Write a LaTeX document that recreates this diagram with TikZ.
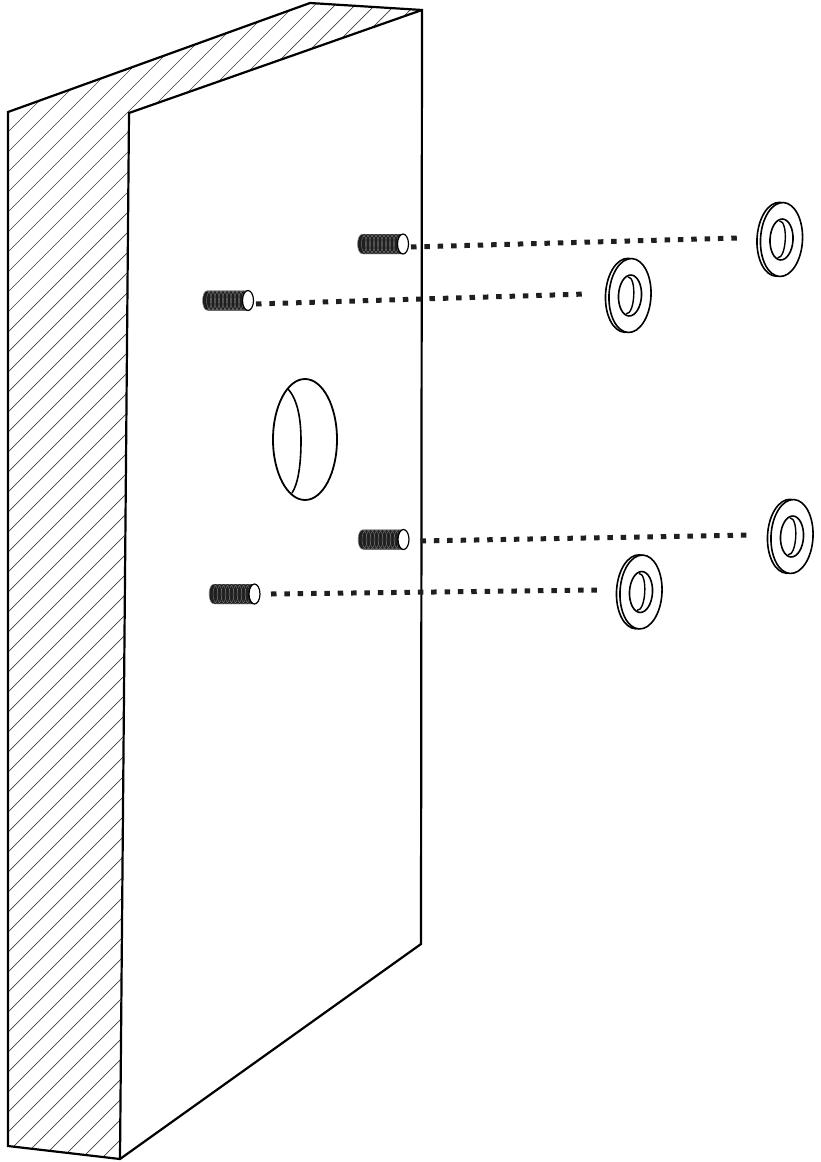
\documentclass[tikz,border=0pt]{standalone}
\begin{document}
\begin{tikzpicture}[x=1pt,y=-1pt,line join=miter,
  edge/.style={draw=black,line width=2.2pt},
  hatchline/.style={draw=black!75,line width=0.7pt},
  dotline/.style={draw=black!88,line width=5pt,dash pattern=on 5.5pt off 7.85pt},
  boltend/.style={draw=black,fill=white,line width=1.2pt},
  washer/.style={draw=black,line width=1.6pt,fill=white},
  thread/.style={draw=black!55,line width=0.45pt}]
\useasboundingbox (0,0) rectangle (820,1162);
\newcommand{\boltat}[3]{%
  \begin{scope}[shift={(#2,#3)}]
    \fill[black!88] (5,-10) -- (44,-10) -- (44,10) -- (5,10) .. controls (-2,10) and (-2,-10) .. (5,-10) -- cycle;
    \foreach \tx in {4,8,...,40}{\draw[thread] (\tx,0) ellipse [x radius=4.5,y radius=9.6];}
    \draw[boltend] (45,0) ellipse [x radius=5.5,y radius=10];
    \coordinate (#1) at (45,0);
  \end{scope}}
\newcommand{\washerat}[3]{%
  \begin{scope}[shift={(#2,#3)},rotate=-3]
    \draw[washer] (-3.5,0) ellipse [x radius=21,y radius=37];
    \draw[washer] (0,0) ellipse [x radius=21,y radius=37];
    \draw[washer] (0,0) ellipse [x radius=11.5,y radius=20.5];
    \draw[line width=1.4pt] (-3,-18.5) .. controls (6,-19) and (6,19) .. (-3,18.5);
    \coordinate (#1) at (0,0);
  \end{scope}}
% hatching
\begin{scope}
  \clip (8,112) -- (310,3) -- (422,10) -- (129,113) -- (120,1159) -- (8,1146) -- cycle;
  \foreach \s in {120,140,...,1300}{\draw[hatchline] (\s,0) -- (\s-1200,1200);}
\end{scope}
% slab
\coordinate (A) at (8,112);
\coordinate (B) at (310,3);
\coordinate (C) at (422,10);
\coordinate (D) at (129,113);
\coordinate (E) at (120,1159);
\coordinate (F) at (8,1146);
\coordinate (G) at (421,944);
\draw[edge] (A) -- (B) -- (C) -- (G) -- (E) -- (F) -- cycle;
\draw[edge] (C) -- (D) -- (E);
% hole
\coordinate (H) at (305,439.5);
\draw[line width=1.8pt] (H) ellipse [x radius=32,y radius=60.5];
\draw[line width=1.6pt] (288,389) .. controls (298,400) and (301,420) .. (301,441) .. controls (301,465) and (298,484) .. (292,493);
% bolts and washers
\boltat{ba}{358}{244}
\boltat{bb}{203}{300.5}
\boltat{bc}{358.5}{539.5}
\boltat{bd}{209.5}{594}
\washerat{wa}{781.5}{239.5}
\washerat{wb}{630}{295.5}
\washerat{wc}{792}{536.5}
\washerat{wd}{641}{592}
% connectors
\draw[dotline] ([xshift=8pt,yshift=-3pt]ba) -- ([xshift=-44pt,yshift=1.5pt]wa);
\draw[dotline] ([xshift=8pt,yshift=-3.5pt]bb) -- ([xshift=-44pt,yshift=1.5pt]wb);
\draw[dotline] ([xshift=17pt,yshift=-1.5pt]bc) -- ([xshift=-44pt,yshift=1.5pt]wc);
\draw[dotline] ([xshift=16.5pt,yshift=0pt]bd) -- ([xshift=-44pt,yshift=2pt]wd);
\end{tikzpicture}
\end{document}
